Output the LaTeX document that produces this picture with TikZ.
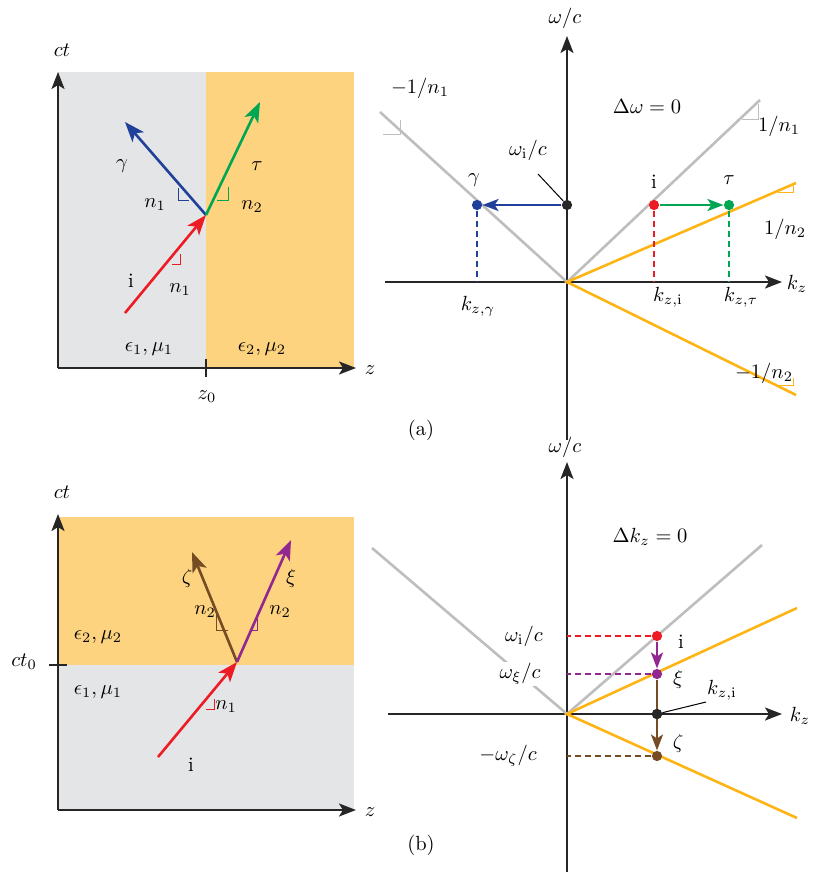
\documentclass[tikz,border=0pt]{standalone}
\usepackage{amsmath}
\usetikzlibrary{arrows.meta, positioning}
\definecolor{panelgray}{RGB}{228,229,231}
\definecolor{panelorange}{RGB}{253,211,128}
\definecolor{conegray}{RGB}{190,190,190}
\definecolor{coneorange}{RGB}{253,180,20}
\definecolor{rayred}{RGB}{237,28,36}
\definecolor{rayblue}{RGB}{33,64,154}
\definecolor{raygreen}{RGB}{0,166,81}
\definecolor{raypurple}{RGB}{146,39,143}
\definecolor{raybrown}{RGB}{117,76,36}
\newcommand{\slopemark}[4]{\draw[#1, line width=1pt] (#2) -- ++(#3,0) -- ++(0,#4);}
\begin{document}
\begin{tikzpicture}[x=1pt, y=-1pt,
        every node/.style = {scale=2.05, inner sep=0.5pt},
        axis/.style = {line width=2.4pt, draw=black!85, -{Stealth[length=17pt, width=13pt, inset=4pt]}},
        plainaxis/.style = {line width=2.4pt, draw=black!85},
        ray/.style = {line width=2.6pt, -{Stealth[length=20pt, width=15pt, inset=5pt]}},
        jump/.style = {line width=2.6pt, -{Stealth[length=16pt, width=12pt, inset=4pt]}},
        cone/.style = {line width=2.6pt},
        guide/.style = {line width=1.2pt, dash pattern=on 6pt off 4pt},
        dot/.style = {circle, fill=#1, minimum size=5pt, inner sep=0pt},
        leader/.style = {line width=1pt, black}  ]
    \useasboundingbox (0,0) rectangle (832,876);

    % ---- (a) space-time, spatial interface
    \fill[panelgray] (58,72) rectangle (206,368);
    \fill[panelorange] (206,72) rectangle (354,368);
    \coordinate (a_org) at (58,368);
    \coordinate (a_top) at (58,72);
    \coordinate (a_right) at (356,368);
    \draw[axis] (a_org) -- (a_top);
    \draw[axis] (a_org) -- (a_right);
    \draw[plainaxis] (206,359) -- (206,377);
    \node at (62,50) {$ct$};
    \node at (370,370) {$z$};
    \node at (207,397) {$z_0$};

    \coordinate (a_hit) at (206,215);
    \coordinate (a_inc) at (125,313);
    \coordinate (a_refl) at (125,122);
    \coordinate (a_trans) at (260,102);
    \draw[ray, rayred] (a_inc) -- (a_hit);
    \draw[ray, rayblue] (a_hit) -- (a_refl);
    \draw[ray, raygreen] (a_hit) -- (a_trans);
    \slopemark{rayred}{172,264}{8}{-10}
    \slopemark{rayblue}{189,200}{-11}{-12}
    \slopemark{raygreen}{217,200}{11}{-13}
    \node at (122,166) {$\gamma$};
    \node at (155,205) {$n_1$};
    \node at (257,166) {$\tau$};
    \node at (252,207) {$n_2$};
    \node at (131,281) {i};
    \node at (180,290) {$n_1$};
    \node at (149,349) {$\epsilon_1,\mu_1$};
    \node at (262,349) {$\epsilon_2,\mu_2$};

    % ---- (a) dispersion diagram
    \coordinate (ka_org) at (567,282);
    \draw[axis] (567,440) -- (567,36);
    \draw[axis] (385,282) -- (782,282);
    \node at (565,18) {$\omega/c$};
    \node at (797,284) {$k_z$};
    \draw[cone, conegray] (380,112) -- (ka_org) -- (760,100);
    \draw[cone, coneorange] (796,183) -- (ka_org) -- (796,395);
    \slopemark{conegray}{383,134}{17}{-14}
    \slopemark{conegray}{742,119}{16}{-15}
    \slopemark{coneorange}{778,192}{15}{-7}
    \slopemark{coneorange}{777,385}{16}{-7}
    \node at (420,88) {$-1/n_1$};
    \node at (779,126) {$1/n_1$};
    \node at (785,229) {$1/n_2$};
    \node at (764,373) {$-1/n_2$};
    \node at (647,106) {$\Delta\omega=0$};

    \node[dot=black!85] (ka_mid) at (567,205) {};
    \node[dot=rayred] (ka_i) at (654,205) {};
    \node[dot=raygreen] (ka_tau) at (729,205) {};
    \node[dot=rayblue] (ka_gamma) at (477,205) {};
    \draw[jump, rayblue] (ka_mid) -- (ka_gamma);
    \draw[jump, raygreen] (ka_i) -- (ka_tau);
    \draw[guide, rayblue] (ka_gamma) -- (ka_gamma |- ka_org);
    \draw[guide, rayred] (ka_i) -- (ka_i |- ka_org);
    \draw[guide, raygreen] (ka_tau) -- (ka_tau |- ka_org);
    \node at (474,180) {$\gamma$};
    \node at (654,182) {i};
    \node at (729,180) {$\tau$};
    \node (wi_a) at (528,150) {$\omega_{\mathrm{i}}/c$};
    \draw[leader] (538,174) -- (ka_mid);
    \node at (478,306) {$k_{z,\gamma}$};
    \node at (668,297) {$k_{z,\mathrm{i}}$};
    \node at (741,297) {$k_{z,\tau}$};
    \node at (421,430) {(a)};

    % ---- (b) space-time, temporal interface
    \fill[panelorange] (58,517) rectangle (354,665);
    \fill[panelgray] (58,665) rectangle (354,810);
    \coordinate (b_org) at (58,810);
    \coordinate (b_top) at (58,514);
    \coordinate (b_right) at (356,810);
    \draw[axis] (b_org) -- (b_top);
    \draw[axis] (b_org) -- (b_right);
    \draw[plainaxis] (49,665) -- (67,665);
    \node at (62,492) {$ct$};
    \node at (370,812) {$z$};
    \node at (24,662) {$ct_0$};

    \coordinate (b_hit) at (237,662);
    \coordinate (b_inc) at (158,757);
    \coordinate (b_back) at (192,552);
    \coordinate (b_fwd) at (291,540);
    \draw[ray, rayred] (b_inc) -- (b_hit);
    \draw[ray, raybrown] (b_hit) -- (b_back);
    \draw[ray, raypurple] (b_hit) -- (b_fwd);
    \slopemark{rayred}{206,709}{8}{-10}
    \draw[raybrown, line width=1pt] (216,614) -- (216,630) -- (228,630);
    \draw[raypurple, line width=1pt] (257,614) -- (257,630) -- (250,630);
    \node at (187,578) {$\zeta$};
    \node at (291,578) {$\xi$};
    \node at (205,612) {$n_2$};
    \node at (280,612) {$n_2$};
    \node at (98,637) {$\epsilon_2,\mu_2$};
    \node at (98,692) {$\epsilon_1,\mu_1$};
    \node at (226,707) {$n_1$};
    \node at (191,765) {i};

    % ---- (b) dispersion diagram
    \coordinate (kb_org) at (567,714);
    \draw[axis] (567,872) -- (567,462);
    \draw[axis] (388,714) -- (782,714);
    \node at (565,447) {$\omega/c$};
    \node at (800,716) {$k_z$};
    \draw[cone, conegray] (372,548) -- (kb_org) -- (762,545);
    \draw[cone, coneorange] (797,608) -- (kb_org) -- (797,818);
    \node at (650,537) {$\Delta k_z=0$};

    \node[dot=rayred] (kb_i) at (657,636) {};
    \node[dot=raypurple] (kb_xi) at (657,674) {};
    \node[dot=black!85] (kb_mid) at (657,714) {};
    \node[dot=raybrown] (kb_zeta) at (657,756) {};
    \draw[jump, raybrown] (kb_xi) -- (kb_zeta);
    \draw[jump, raypurple] (kb_i) -- (kb_xi);
    \node[dot=black!85] at (657,714) {};
    \draw[guide, rayred] (kb_i) -- (kb_i -| kb_org);
    \draw[guide, raypurple] (kb_xi) -- (kb_xi -| kb_org);
    \draw[guide, raybrown] (kb_zeta) -- (kb_zeta -| kb_org);
    \node[fill=white] at (524,636) {$\omega_{\mathrm{i}}/c$};
    \node[fill=white] at (520,674) {$\omega_{\xi}/c$};
    \node at (508,756) {$-\omega_{\zeta}/c$};
    \node at (681,642) {i};
    \node at (678,679) {$\xi$};
    \node at (678,743) {$\zeta$};
    \node (kzi_b) at (722,690) {$k_{z,\mathrm{i}}$};
    \draw[leader] (706,702) -- (kb_mid);
    \node at (421,845) {(b)};
\end{tikzpicture}
\end{document}
